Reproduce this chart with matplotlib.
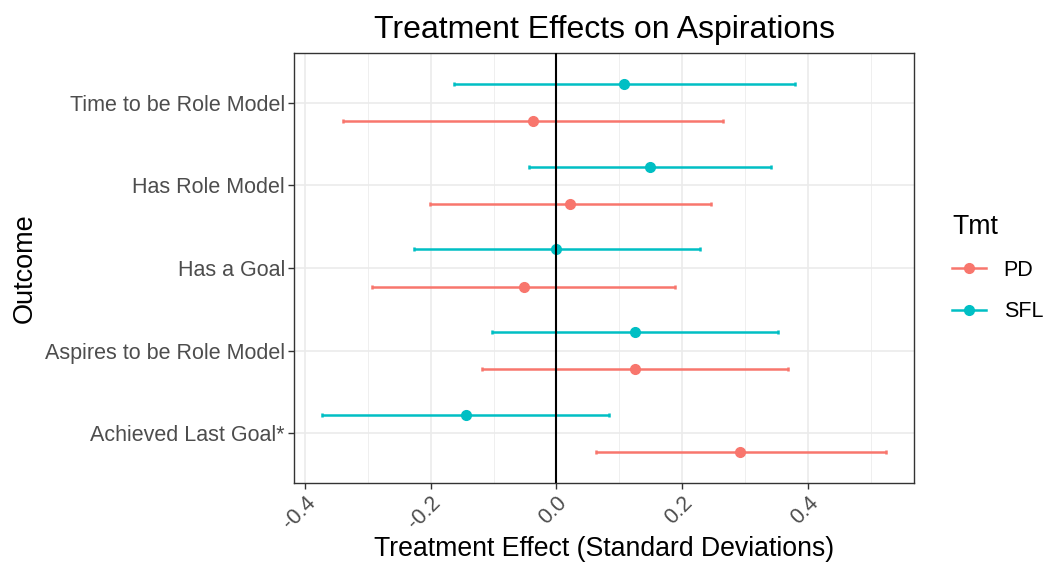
import matplotlib
matplotlib.use("Agg")
import matplotlib.pyplot as plt
from matplotlib.lines import Line2D
import numpy as np

outcomes = ["Achieved Last Goal*", "Aspires to be Role Model", "Has a Goal",
            "Has Role Model", "Time to be Role Model"]
groups = ["PD", "SFL"]
colors = {"PD": "#F8766D", "SFL": "#00BFC4"}

pd_est = [0.292, 0.125, -0.052, 0.021, -0.037]
pd_lo = [0.062, -0.118, -0.293, -0.201, -0.339]
pd_hi = [0.523, 0.368, 0.188, 0.245, 0.264]

sfl_est = [-0.144, 0.125, 0.000, 0.148, 0.108]
sfl_lo = [-0.372, -0.103, -0.227, -0.043, -0.163]
sfl_hi = [0.083, 0.352, 0.228, 0.341, 0.379]

xticks = [-0.4, -0.2, 0.0, 0.2, 0.4]
xticklabels = ["-0.4", "-0.2", "0.0", "0.2", "0.4"]

plt.rcParams['font.family'] = ['Liberation Sans', 'DejaVu Sans']

W, H = 1049, 566
fig = plt.figure(figsize=(W / 100, H / 100), dpi=100)
ax = fig.add_axes([294 / W, 1 - 483 / H, 620 / W, 430 / H])

data = {"PD": (pd_est, pd_lo, pd_hi), "SFL": (sfl_est, sfl_lo, sfl_hi)}
offsets = {"PD": -0.225, "SFL": 0.225}
ypos = np.arange(1, len(outcomes) + 1)

for g in groups:
    est, lo, hi = (np.array(a) for a in data[g])
    y = ypos + offsets[g]
    ax.errorbar(est, y, xerr=[est - lo, hi - est], fmt='o', color=colors[g],
                ecolor=colors[g], elinewidth=1.8, capsize=1.3, capthick=1.8,
                markersize=7, zorder=3)

ax.axvline(0, color='black', lw=1.5, zorder=4)

ax.set_xlim(-0.417, 0.568)
ax.set_ylim(0.4, 5.6)
ax.set_yticks(ypos)
ax.set_yticklabels(outcomes)
ax.set_xticks(xticks)
ax.set_xticklabels(xticklabels, rotation=45, ha='right', va='top', rotation_mode='anchor')
ax.set_xticks([-0.3, -0.1, 0.1, 0.3, 0.5], minor=True)

ax.grid(True, which='major', color='#EBEBEB', lw=1.2, zorder=0)
ax.grid(True, which='minor', axis='x', color='#EFEFEF', lw=0.7, zorder=0)
ax.set_axisbelow(True)
for s in ax.spines.values():
    s.set_color('#333333')
    s.set_linewidth(1.0)
ax.tick_params(axis='both', which='major', colors='#333333', labelcolor='#4D4D4D',
               labelsize=15.5, length=4, width=1.0, pad=2.5)
ax.tick_params(axis='x', which='minor', length=0)

ax.set_xlabel("Treatment Effect (Standard Deviations)", fontsize=19.2, labelpad=2)
ax.set_ylabel("Outcome", fontsize=19.5, labelpad=5)
ax.set_title("Treatment Effects on Aspirations", fontsize=23, pad=11)

handles = [Line2D([0], [0], color=colors[g], lw=1.8, marker='o', markersize=7)
           for g in groups]
leg = fig.legend(handles, groups, title="Tmt", loc='center left',
                 bbox_to_anchor=(952 / W, 1 - 268 / H),
                 frameon=False, fontsize=15.5, title_fontsize=19.2,
                 handlelength=1.6, handletextpad=0.8, labelspacing=0.95,
                 borderpad=0, borderaxespad=0, alignment='left')

fig.savefig("out.png", dpi=100)
